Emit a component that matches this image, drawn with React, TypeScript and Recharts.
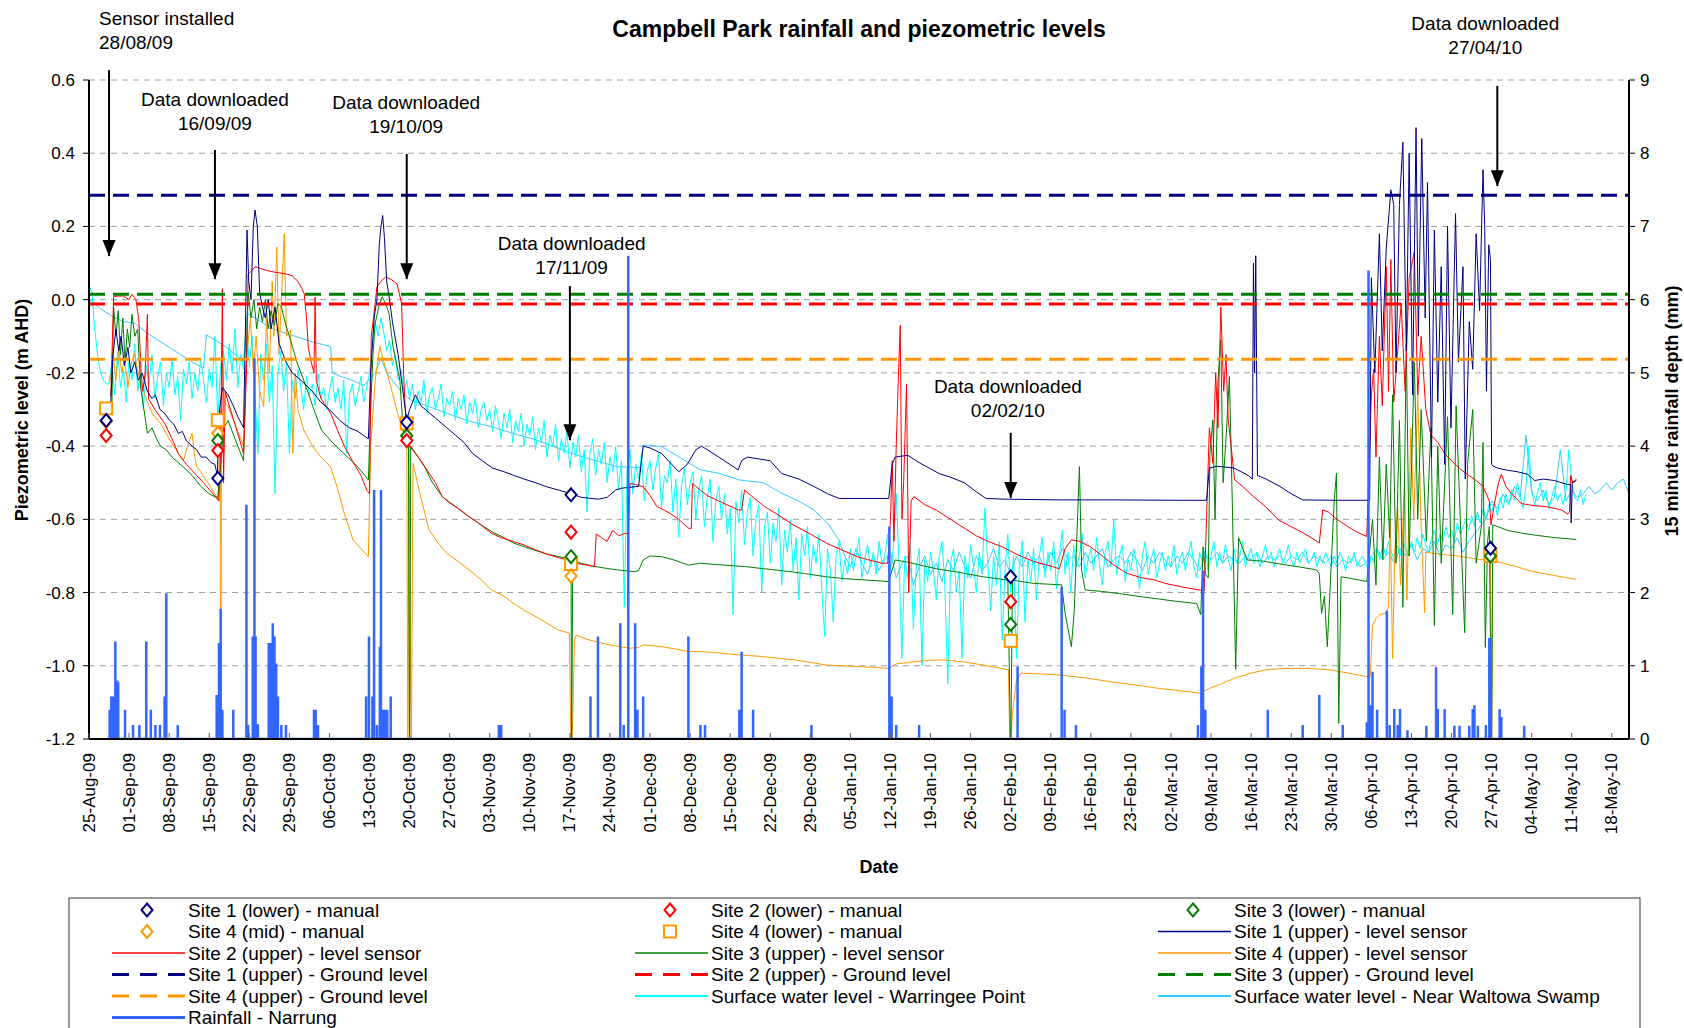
import React from 'react';
import {
  ComposedChart, Line, XAxis, YAxis, CartesianGrid, ReferenceLine, ReferenceDot
} from 'recharts';

const FONT = '"Liberation Sans", Arial, sans-serif';

const NAVY = '#000080';
const RED = '#FF0000';
const GREEN = '#008000';
const ORANGE = '#FF9900';
const CYAN = '#00FFFF';
const SKY = '#33CCFF';
const RAIN = '#3366FF';

// t = days since 25-Aug-09
const weekTicks = [0, 7, 14, 21, 28, 35, 42, 49, 56, 63, 70, 77, 84, 91, 98, 105, 112, 119, 126, 133,
  140, 147, 154, 161, 168, 175, 182, 189, 196, 203, 210, 217, 224, 231, 238, 245, 252, 259, 266];
const levelTicks = [-1.2, -1.0, -0.8, -0.6, -0.4, -0.2, 0.0, 0.2, 0.4, 0.6];
const rainTicks = [0, 1, 2, 3, 4, 5, 6, 7, 8, 9];
const monthNames = ['Jan', 'Feb', 'Mar', 'Apr', 'May', 'Jun', 'Jul', 'Aug', 'Sep', 'Oct', 'Nov', 'Dec'];

// ground levels (m AHD)
const groundSite1 = 0.285;
const groundSite2 = -0.012;
const groundSite3 = 0.015;
const groundSite4 = -0.163;

// manual readings [day, level]
const site1Manual = [[3, -0.33], [22.5, -0.488], [55.5, -0.335], [84.2, -0.533], [161, -0.757], [244.8, -0.679]];
const site2Manual = [[3, -0.371], [22.5, -0.412], [55.5, -0.385], [84.2, -0.635], [161, -0.825]];
const site3Manual = [[22.5, -0.385], [55.5, -0.372], [84.2, -0.702], [161, -0.887], [244.8, -0.7]];
const site4MidManual = [[3, -0.333], [22.5, -0.365], [55.5, -0.372], [84.2, -0.755], [244.8, -0.702]];
const site4LowerManual = [[3, -0.297], [22.5, -0.329], [55.5, -0.338], [84.2, -0.722], [161, -0.932], [244.8, -0.7]];

// level sensors [day, level]
const site1Sensor = [
  [3.8, -0.28], [4.2, -0.15], [4.7, -0.08], [5.2, -0.14], [5.6, -0.1], [6.2, -0.18], [6.8, -0.13], [7.3, -0.2],
  [8, -0.17], [8.6, -0.22], [9.3, -0.2], [10.2, -0.25], [11, -0.27], [11.6, -0.26], [12.4, -0.3], [13.2, -0.31],
  [14.1, -0.33], [14.8, -0.34], [15.6, -0.365], [16.3, -0.36], [17, -0.385], [18, -0.4], [18.8, -0.41],
  [19.6, -0.43], [20.5, -0.43], [21.3, -0.445], [22, -0.45], [22.4, -0.48], [22.8, -0.3], [23.3, -0.24],
  [24.3, -0.26], [25.2, -0.29], [26, -0.32], [27, -0.35], [27.3, -0.1], [27.6, 0.19], [27.9, 0.05], [28.3, 0.0],
  [28.7, 0.2], [29, 0.245], [29.4, 0.2], [29.8, 0.02], [30.3, -0.02], [30.8, -0.05], [31.3, 0.0], [31.8, -0.08],
  [32.5, -0.02], [33.2, -0.12], [34.4, -0.17], [35.5, -0.2], [37, -0.22], [39, -0.25], [40.5, -0.28], [42, -0.3],
  [43.8, -0.33], [45.5, -0.35], [47, -0.36], [48.8, -0.38], [49.2, -0.2], [49.8, -0.05], [50.3, 0.0], [50.7, 0.15],
  [51, 0.2], [51.3, 0.23], [51.6, 0.17], [52, 0.05], [52.5, 0.0], [53, -0.06], [54, -0.15], [55, -0.27],
  [55.5, -0.33], [56, -0.3], [57, -0.26], [58, -0.29], [59.5, -0.31], [61, -0.33], [62.5, -0.35], [64, -0.37],
  [65.5, -0.39], [67, -0.42], [68.7, -0.44], [70.5, -0.46], [72.5, -0.47], [74.2, -0.48], [76, -0.49], [78, -0.5],
  [79.7, -0.51], [82, -0.52], [84.2, -0.53], [86, -0.54], [89, -0.545], [90.5, -0.54], [92, -0.52], [93, -0.515],
  [96, -0.51], [96.8, -0.4], [98, -0.405], [100, -0.42], [101.5, -0.445], [103, -0.47], [104.5, -0.45],
  [106, -0.41], [107, -0.4], [110, -0.43], [113.4, -0.465], [114, -0.44], [115, -0.43], [117, -0.435],
  [119, -0.44], [121, -0.475], [124, -0.49], [126.6, -0.51], [129, -0.53], [131, -0.543], [135, -0.543],
  [139.7, -0.543], [140.3, -0.45], [140.8, -0.43], [143, -0.425], [145, -0.445], [148.5, -0.475], [150.5, -0.485],
  [152.9, -0.5], [155, -0.525], [156.7, -0.543], [160, -0.545], [170, -0.547], [180, -0.547], [190, -0.548],
  [195.2, -0.548], [195.7, -0.46], [197, -0.455], [200, -0.46], [202.5, -0.48], [203.2, -0.49], [203.4, 0.1],
  [203.6, -0.2], [203.8, 0.12], [204.1, -0.48], [205.6, -0.49], [208, -0.51], [210, -0.53], [212, -0.547],
  [218, -0.548], [223.7, -0.548],
  [224, 0.06], [224.6, -0.2], [225.4, 0.18], [225.9, -0.14], [226.6, 0.14], [227.4, 0.3], [227.9, 0.26],
  [228.3, -0.2], [228.9, 0.26], [229.5, 0.43], [230.1, -0.14], [230.6, 0.4], [231.2, -0.26], [231.8, 0.47],
  [232.2, -0.1], [232.8, 0.44], [233.4, -0.05], [233.8, 0.32], [234.5, -0.43], [235, 0.19], [235.6, -0.28],
  [236.2, 0.09], [236.8, -0.45], [237.3, 0.2], [237.9, -0.35], [238.7, 0.235], [239.2, -0.17], [240, 0.09],
  [240.4, -0.49], [241.1, -0.06], [241.7, -0.19], [242.3, 0.18], [242.9, -0.03], [243.5, 0.355], [243.8, 0.2],
  [244.1, -0.25], [244.5, 0.15], [244.8, 0.11], [245, -0.45],
  [245.2, -0.454], [246, -0.46], [247.8, -0.466], [249.5, -0.47], [251.3, -0.477], [252.5, -0.494], [254, -0.49],
  [256, -0.494], [258.3, -0.505], [258.8, -0.505], [258.9, -0.61], [259.1, -0.5], [259.8, -0.494],
];

const site2Sensor = [
  [3.8, -0.265], [4.3, 0.008], [5, 0.01], [6, 0.01], [7, 0.0], [7.5, 0.015], [8.2, 0.0], [8.7, -0.055],
  [9.1, -0.2], [9.4, -0.25], [9.8, -0.2], [10.2, -0.04], [10.4, -0.27], [11.5, -0.3], [13.3, -0.34], [14.5, -0.38],
  [15.6, -0.42], [17, -0.45], [18.8, -0.48], [20, -0.5], [21.1, -0.52], [22.7, -0.55], [23, -0.4], [23.3, 0.03],
  [23.5, -0.5], [23.8, -0.25], [24.3, -0.28], [25.5, -0.34], [27, -0.42], [27.5, -0.2], [27.8, 0.07], [28.5, 0.08],
  [29, 0.09], [30, 0.085], [31, 0.08], [32.5, 0.075], [34.5, 0.07], [35.5, 0.065], [36.5, 0.05], [37.2, 0.03],
  [37.6, 0.015], [38, -0.05], [38.3, -0.13], [38.8, -0.17], [39.3, -0.2], [39.5, 0.007], [39.7, -0.22],
  [40.5, -0.27], [42.2, -0.31], [43.5, -0.36], [44.6, -0.4], [46, -0.44], [47.5, -0.48], [48.5, -0.52], [49, -0.53],
  [49.3, -0.1], [49.7, -0.05], [50.3, 0.035], [51, 0.05], [51.8, 0.062], [52.8, 0.055], [53.8, 0.043],
  [54.6, -0.01], [55, -0.22], [55.5, -0.383], [56, -0.4], [57, -0.42], [58, -0.44], [59.4, -0.474], [60.5, -0.5],
  [61.7, -0.538], [63, -0.555], [64.5, -0.57], [66.4, -0.593], [68, -0.61], [70.3, -0.638], [72, -0.65],
  [74, -0.66], [76, -0.67], [78.1, -0.684], [80, -0.695], [82, -0.705], [83.6, -0.711], [85, -0.72], [87, -0.725],
  [88.3, -0.729], [88.6, -0.64], [89.5, -0.65], [90.5, -0.66], [91.5, -0.63], [92.5, -0.645], [93.7, -0.638],
  [94.2, -0.64], [94.5, -0.502], [95.5, -0.505], [96.8, -0.511], [98, -0.535], [99.2, -0.565], [100.5, -0.575],
  [101.5, -0.584], [103, -0.6], [104.7, -0.624], [105.2, -0.625], [105.4, -0.502], [106, -0.51], [106.8, -0.52],
  [108, -0.535], [110, -0.55], [113.4, -0.574], [114, -0.575], [114.5, -0.52], [116, -0.54], [118, -0.565],
  [120, -0.584], [123, -0.615], [126, -0.64], [128.8, -0.665], [131, -0.68], [134.2, -0.702], [136, -0.71],
  [138.6, -0.72], [139.5, -0.72], [140, -0.6], [140.3, -0.44], [140.6, -0.66], [141, -0.4], [141.4, -0.2],
  [141.7, -0.07], [142, -0.6], [142.3, -0.5], [142.8, -0.23], [143.2, -0.8], [143.6, -0.55], [144.1, -0.538],
  [146, -0.56], [148, -0.575], [150.7, -0.602], [153, -0.625], [155, -0.645], [157, -0.66], [159.5, -0.675],
  [162, -0.695], [165, -0.715], [168.3, -0.729], [169.5, -0.735], [170.5, -0.68], [171.6, -0.656], [173, -0.66],
  [174.9, -0.675], [177, -0.7], [179, -0.725], [181.4, -0.748], [184, -0.76], [186, -0.765], [188, -0.775],
  [191, -0.785], [194, -0.793], [194.8, -0.795], [195.2, -0.6], [195.7, -0.35], [196.3, -0.447], [196.8, -0.2],
  [197.2, -0.35], [197.7, -0.02], [198.2, -0.25], [198.6, -0.15], [199, -0.329], [199.5, -0.4], [200.1, -0.492],
  [201.5, -0.51], [203.4, -0.538], [205.5, -0.565], [207.8, -0.602], [210, -0.62], [212.2, -0.638], [214, -0.655],
  [214.9, -0.665], [215.5, -0.574], [216.5, -0.58], [218, -0.6], [219.9, -0.62], [221.5, -0.635], [223.2, -0.647],
  [224, -0.26], [224.4, -0.19], [224.8, -0.43], [225.4, -0.1], [225.9, -0.29], [226.6, 0.09], [227, -0.25],
  [227.4, 0.11], [227.9, -0.28], [228.6, -0.14], [229.2, -0.01], [229.9, -0.25], [230.6, 0.06], [231.5, 0.13],
  [232.1, -0.26], [232.7, -0.1], [233.5, -0.3], [234.4, -0.37], [235.6, -0.39], [236.8, -0.42], [238, -0.44],
  [239.7, -0.465], [241, -0.48], [242, -0.49], [243.5, -0.51], [244.6, -0.55], [244.9, -0.615], [245.5, -0.557],
  [246.2, -0.5], [246.7, -0.477], [247.5, -0.51], [248.5, -0.53], [250.2, -0.557], [251.5, -0.56], [252.5, -0.563],
  [254.5, -0.565], [257.2, -0.574], [258.3, -0.586], [258.6, -0.58], [258.8, -0.48], [259.2, -0.5], [259.8, -0.49],
];

const site3Sensor = [
  [4, -0.29], [4.3, -0.02], [4.7, -0.1], [5.1, -0.03], [5.5, -0.15], [5.9, -0.05], [6.3, -0.17], [6.7, -0.08],
  [7.1, -0.13], [7.5, -0.04], [8, -0.1], [8.5, -0.08], [9, -0.237], [9.6, -0.3], [10.2, -0.365], [11, -0.35],
  [11.8, -0.38], [12.5, -0.4], [13.5, -0.41], [14.5, -0.43], [16.4, -0.456], [18, -0.48], [19.6, -0.511], [21, -0.53],
  [21.9, -0.538], [22.5, -0.54], [23, -0.45], [23.5, -0.35], [24.3, -0.33], [25.5, -0.38], [27, -0.44], [27.4, -0.2],
  [27.8, 0.02], [28.3, -0.05], [28.8, 0.0], [29.3, -0.08], [29.8, -0.02], [30.3, -0.06], [30.8, 0.0], [31.3, -0.08],
  [31.8, -0.03], [32.4, -0.07], [33, -0.01], [33.6, -0.02], [34.4, -0.07], [35.2, -0.11], [36.3, -0.17],
  [37.5, -0.22], [39.1, -0.292], [40.6, -0.356], [42.5, -0.39], [44.5, -0.42], [46.9, -0.456], [48.8, -0.492],
  [49.2, -0.3], [49.6, -0.15], [50, -0.064], [50.6, -0.02], [51.2, 0.008], [51.8, -0.01], [52.4, -0.037],
  [53.1, -0.128], [54.3, -0.22], [55, -0.383], [55.8, -0.39], [56, -1.25], [56.2, -0.4], [57.5, -0.43],
  [58.6, -0.456], [60, -0.5], [61.7, -0.538], [64, -0.565], [66.4, -0.593], [68.5, -0.615], [70.5, -0.635],
  [72.5, -0.65], [74.2, -0.665], [77, -0.68], [80, -0.695], [83.6, -0.707], [84.2, -0.71], [84.3, -1.25],
  [84.5, -0.71], [85.9, -0.72], [88, -0.728], [90, -0.733], [92.2, -0.738], [95.3, -0.743], [96, -0.74],
  [96.8, -0.711], [98, -0.7], [100, -0.702], [102, -0.71], [104.7, -0.725], [106.8, -0.72], [110, -0.724],
  [114.5, -0.729], [118, -0.735], [122, -0.742], [125, -0.748], [128.8, -0.757], [132, -0.762], [136, -0.766],
  [139.7, -0.77], [140.8, -0.711], [143, -0.717], [145.2, -0.725], [148, -0.735], [152, -0.745], [156.2, -0.757],
  [160.5, -0.766], [161, -1.25], [161.3, -0.766], [165, -0.775], [169.9, -0.779], [170.5, -0.857], [171.6, -0.948],
  [172.1, -0.85], [172.7, -0.584], [173, -0.456], [173.4, -0.74], [174, -0.793], [177, -0.797], [180, -0.803],
  [183.6, -0.811], [187, -0.818], [190, -0.824], [193.5, -0.83], [194.2, -0.86], [194.6, -0.675], [195, -0.75],
  [195.5, -0.76], [195.8, -0.42], [196.3, -0.329], [196.7, -0.6], [197.2, -0.22], [197.7, -0.11], [198.1, -0.5],
  [198.6, -0.383], [199.2, -0.21], [199.7, -0.55], [200.3, -1.01], [200.8, -0.65], [202.3, -0.711], [205, -0.714],
  [208, -0.722], [211, -0.729], [214.4, -0.738], [214.9, -0.748], [215.3, -0.857], [215.8, -0.81], [216.3, -0.948],
  [217, -0.72], [217.5, -0.55], [217.9, -0.474], [218.3, -1.157], [218.7, -0.757], [220, -0.76], [223.2, -0.77],
  [224.2, -0.6], [224.8, -0.78], [225.4, -0.43], [226, -0.71], [226.6, -0.45], [227.2, -0.65], [227.7, -0.26],
  [228.3, -0.72], [228.9, -0.33], [229.5, -0.84], [230.1, -0.12], [230.6, -0.7], [231.5, -0.17], [232.1, -0.6],
  [232.7, -0.3], [233.6, -0.66], [234.4, -0.35], [235, -0.89], [235.6, -0.4], [236.2, -0.72], [237.3, -0.32],
  [238.2, -0.86], [238.8, -0.29], [239.7, -0.67], [240.3, -0.91], [240.8, -0.45], [241.7, -0.3], [242.3, -0.72],
  [243.2, -0.62], [243.5, -0.39], [243.9, -0.95], [244.3, -0.66], [244.6, -0.62], [245, -1.25], [245.2, -0.615],
  [247.8, -0.63], [250, -0.637], [252.5, -0.643], [256, -0.65], [259.8, -0.655],
];

const site4Sensor = [
  [3.8, -0.22], [4.2, -0.15], [4.7, -0.22], [5.2, -0.13], [5.7, -0.2], [6.2, -0.16], [6.8, -0.24], [7.3, -0.18],
  [7.9, -0.146], [8.6, -0.2], [9.4, -0.246], [10.2, -0.28], [11, -0.31], [12.5, -0.338], [14, -0.38], [15.6, -0.42],
  [16.5, -0.44], [17.2, -0.4], [18, -0.365], [18.4, -0.42], [18.8, -0.456], [19.5, -0.47], [20.4, -0.492],
  [21.2, -0.51], [21.9, -0.529], [22.6, -0.547], [22.9, -0.3], [23, -1.25], [23.2, -0.12], [23.6, -0.28],
  [24.3, -0.292], [25.5, -0.34], [27, -0.401], [27.4, -0.2], [27.7, -0.128], [28.2, -0.05], [28.7, -0.2],
  [29.2, -0.1], [29.8, -0.25], [30.5, -0.292], [31, -0.05], [31.5, -0.2], [32, 0.05], [32.3, -0.1], [32.8, 0.144],
  [33.2, -0.15], [33.6, 0.0], [34.1, 0.18], [34.5, -0.1], [35.2, -0.083], [35.6, -0.42], [36, -0.2], [36.5, -0.3],
  [37.5, -0.356], [39.1, -0.401], [40.5, -0.43], [42.2, -0.456], [43.5, -0.52], [44.6, -0.584], [46.1, -0.656],
  [47.5, -0.68], [48.8, -0.702], [49.2, -0.401], [50, -0.219], [50.8, -0.128], [51.5, -0.17], [52.4, -0.219],
  [53.9, -0.31], [55, -0.365], [55.5, -0.37], [55.7, -1.25], [55.9, -0.38], [56.3, -1.25], [56.6, -0.447],
  [57.8, -0.529], [59.4, -0.629], [61, -0.665], [62.5, -0.693], [64.5, -0.715], [66.4, -0.738], [68.5, -0.765],
  [70.3, -0.793], [72.5, -0.81], [74.2, -0.83], [76, -0.848], [78.1, -0.866], [80, -0.884], [82, -0.902],
  [83.9, -0.911], [84.2, -1.25], [84.5, -1.15], [84.8, -0.93], [85.1, -0.916], [87, -0.928], [89.8, -0.939],
  [92, -0.946], [94.5, -0.952], [96, -0.95], [96.8, -0.943], [98.5, -0.945], [100, -0.948], [102, -0.953],
  [104.7, -0.961], [106.8, -0.961], [110, -0.965], [113.4, -0.97], [117.8, -0.975], [123.3, -0.984],
  [128.8, -0.998], [134.2, -1.002], [139.7, -1.007], [141, -0.995], [144.1, -0.989], [147, -0.985],
  [149.6, -0.984], [153, -0.99], [156.2, -0.998], [160.6, -1.011], [160.9, -1.25], [161.3, -1.13], [162, -1.04],
  [162.8, -1.02], [166, -1.022], [169.4, -1.025], [174, -1.033], [178.2, -1.043], [183, -1.053], [187, -1.062],
  [191, -1.069], [194.1, -1.075], [195.7, -1.062], [198, -1.048], [200.1, -1.034], [203, -1.02], [205.6, -1.011],
  [208, -1.008], [211.1, -1.007], [214, -1.008], [216.6, -1.011], [220, -1.02], [223.2, -1.03], [223.8, -1.03],
  [224.2, -0.89], [224.8, -0.87], [225.5, -0.86], [226.6, -0.855], [227, -0.84], [227.3, -0.6], [227.7, -0.98],
  [228.1, -0.68], [228.6, -0.57], [229.1, -0.78], [229.8, -0.49], [230.2, -0.82], [230.9, -0.35], [231.4, -0.6],
  [232.1, -0.26], [232.7, -0.62], [233.3, -0.855], [233.5, -0.69], [235, -0.693], [237, -0.697], [239, -0.7],
  [241, -0.705], [243, -0.71], [244.3, -0.71], [244.8, -0.712], [245, -1.25], [245.2, -0.712], [247, -0.72],
  [249.6, -0.73], [251.5, -0.74], [253.7, -0.747], [256.5, -0.755], [259.8, -0.764],
];

// Surface water - Warringee Point, half-day readings from 25-Aug-09
const warringeeStep = 0.5;
const warringeeLevels = [
  0.04, 0.02, -0.08, -0.15, -0.2, -0.22, -0.23, -0.23, -0.17, -0.26, -0.14, -0.24, -0.19, -0.28,
  -0.16, -0.22, -0.12, -0.25, -0.2, -0.3, -0.18, -0.23, -0.15, -0.27, -0.21, -0.17, -0.29, -0.2,
  -0.24, -0.16, -0.26, -0.21, -0.33, -0.19, -0.23, -0.17, -0.27, -0.2, -0.25, -0.16, -0.22, -0.28,
  -0.19, -0.24, -0.1, -0.33, -0.18, -0.14, -0.22, -0.12, -0.2, -0.08, -0.24, -0.15, -0.19, -0.06,
  -0.18, -0.1, -0.26, -0.42, -0.15, -0.22, -0.12, -0.28, -0.18, -0.53, -0.2, -0.14, -0.25, -0.17,
  -0.42, -0.22, -0.27, -0.19, -0.24, -0.3, -0.21, -0.26, -0.23, -0.29, -0.2, -0.27, -0.24, -0.3,
  -0.25, -0.21, -0.28, -0.24, -0.3, -0.22, -0.42, -0.26, -0.23, -0.29, -0.25, -0.21, -0.28, -0.24,
  -0.2, -0.12, -0.06, -0.1, -0.05, -0.09, -0.14, -0.11, -0.18, -0.15, -0.22, -0.19, -0.25, -0.22,
  -0.27, -0.23, -0.3, -0.25, -0.28, -0.22, -0.31, -0.26, -0.24, -0.3, -0.27, -0.23, -0.32, -0.27,
  -0.29, -0.25, -0.33, -0.27, -0.3, -0.26, -0.34, -0.28, -0.31, -0.27, -0.35, -0.3, -0.28, -0.33,
  -0.3, -0.36, -0.29, -0.33, -0.38, -0.31, -0.35, -0.3, -0.39, -0.33, -0.36, -0.31, -0.4, -0.34,
  -0.37, -0.32, -0.41, -0.35, -0.39, -0.33, -0.43, -0.37, -0.4, -0.34, -0.44, -0.38, -0.42, -0.36,
  -0.46, -0.39, -0.43, -0.37, -0.47, -0.41, -0.58, -0.42, -0.38, -0.48, -0.41, -0.45, -0.39, -0.5,
  -0.43, -0.47, -0.4, -0.52, -0.44, -0.84, -0.46, -0.41, -0.53, -0.45, -0.49, -0.42, -0.55, -0.47,
  -0.44, -0.52, -0.46, -0.42, -0.57, -0.48, -0.5, -0.44, -0.58, -0.49, -0.65, -0.51, -0.46, -0.56,
  -0.5, -0.47, -0.6, -0.52, -0.48, -0.62, -0.54, -0.49, -0.66, -0.55, -0.51, -0.6, -0.53, -0.64,
  -0.57, -0.86, -0.55, -0.61, -0.52, -0.67, -0.58, -0.54, -0.7, -0.6, -0.56, -0.8, -0.62, -0.58,
  -0.72, -0.61, -0.66, -0.57, -0.78, -0.63, -0.69, -0.6, -0.74, -0.65, -0.82, -0.64, -0.7, -0.62,
  -0.76, -0.67, -0.72, -0.64, -0.79, -0.92, -0.68, -0.74, -0.88, -0.7, -0.66, -0.77, -0.71, -0.75,
  -0.68, -0.74, -0.7, -0.65, -0.76, -0.71, -0.67, -0.73, -0.69, -0.75, -0.66, -0.72, -0.7, -0.64,
  -0.74, -0.68, -0.53, -0.72, -0.98, -0.7, -0.76, -0.66, -0.9, -0.73, -0.68, -1.0, -0.71, -0.77,
  -0.69, -0.74, -0.82, -0.7, -0.66, -0.78, -1.05, -0.72, -0.68, -0.8, -0.74, -0.98, -0.7, -0.76,
  -0.67, -0.73, -0.8, -0.69, -0.75, -0.57, -0.72, -0.85, -0.7, -0.78, -0.66, -0.93, -0.74, -0.64,
  -0.8, -0.7, -0.98, -0.73, -0.66, -0.88, -0.71, -0.77, -0.68, -0.82, -0.7, -0.65, -0.76, -0.69,
  -0.74, -0.66, -0.79, -0.7, -0.63, -0.75, -0.69, -0.8, -0.67, -0.73, -0.7, -0.64, -0.76, -0.71,
  -0.68, -0.74, -0.65, -0.72, -0.78, -0.69, -0.66, -0.73, -0.6, -0.75, -0.7, -0.67, -0.77, -0.71,
  -0.74, -0.68, -0.72, -0.79, -0.7, -0.66, -0.75, -0.71, -0.68, -0.76, -0.72, -0.69, -0.74, -0.7,
  -0.73, -0.67, -0.75, -0.71, -0.69, -0.74, -0.7, -0.66, -0.73, -0.76, -0.69, -0.72, -0.68, -0.74,
  -0.7, -0.66, -0.73, -0.69, -0.72, -0.67, -0.71, -0.74, -0.68, -0.72, -0.7, -0.66, -0.73, -0.7,
  -0.68, -0.72, -0.69, -0.73, -0.7, -0.67, -0.71, -0.69, -0.73, -0.7, -0.68, -0.72, -0.7, -0.67,
  -0.71, -0.73, -0.69, -0.72, -0.7, -0.68, -0.72, -0.71, -0.69, -0.73, -0.7, -0.72, -0.69, -0.71,
  -0.73, -0.7, -0.72, -0.69, -0.71, -0.74, -0.7, -0.72, -0.69, -0.73, -0.71, -0.7, -0.72, -0.74,
  -0.7, -0.72, -0.68, -0.71, -0.67, -0.7, -0.66, -0.69, -0.71, -0.67, -0.7, -0.66, -0.68, -0.7,
  -0.66, -0.69, -0.65, -0.68, -0.64, -0.67, -0.69, -0.65, -0.63, -0.67, -0.64, -0.66, -0.62, -0.65,
  -0.63, -0.66, -0.61, -0.64, -0.62, -0.6, -0.63, -0.59, -0.62, -0.58, -0.61, -0.57, -0.6, -0.56,
  -0.58, -0.55, -0.59, -0.54, -0.57, -0.53, -0.56, -0.52, -0.55, -0.5, -0.54, -0.57, -0.51, -0.4,
  -0.52, -0.56, -0.53, -0.5, -0.55, -0.52, -0.57, -0.54, -0.51, -0.55, -0.53, -0.56, -0.52, -0.41,
  -0.5, -0.54, -0.55, -0.52, -0.56, -0.53,
];

// Surface water - Near Waltowa Swamp
const waltowaEarly = [
  [0, 0.0], [1, -0.01], [2, -0.025], [4, -0.045], [6, -0.06], [8, -0.064], [10, -0.09], [12, -0.11], [14, -0.13],
  [16, -0.15], [18, -0.17], [20, -0.187], [20.5, -0.096], [22, -0.11], [24, -0.13], [26, -0.155], [27, -0.17],
  [27.6, -0.037], [29, -0.05], [31, -0.07], [33, -0.085], [35, -0.095], [37, -0.105], [39, -0.115], [42.2, -0.128],
  [42.5, -0.2], [44, -0.21], [46, -0.22], [48, -0.235], [50, -0.2], [51, -0.16], [52, -0.2], [53, -0.22],
  [54.5, -0.25], [56.2, -0.274], [59, -0.29], [62.5, -0.31], [66, -0.33], [70.3, -0.347], [74, -0.365],
  [78.1, -0.383], [81, -0.4], [84.3, -0.42], [87, -0.433], [89, -0.442], [92.2, -0.456], [95, -0.458],
  [96.3, -0.458], [96.8, -0.397], [100, -0.401], [103, -0.429], [106.8, -0.465], [110, -0.474], [113.4, -0.492],
  [115, -0.495], [117.8, -0.5], [121, -0.529], [124, -0.55], [126.6, -0.574], [129, -0.61], [131, -0.656],
];
const waltowaDailyStart = 132;
const waltowaDaily = [
  -0.7, -0.73, -0.68, -0.72, -0.75, -0.7, -0.74,
  -0.71, -0.69, -0.76, -0.72, -0.7, -0.78, -0.73,
  -0.7, -0.75, -0.72, -0.77, -0.71, -0.74, -0.69,
  -0.73, -0.76, -0.7, -0.74, -0.72, -0.68, -0.73,
  -0.71, -0.75, -0.7, -0.73, -0.69, -0.72, -0.7,
  -0.74, -0.69, -0.72, -0.68, -0.71, -0.7, -0.73,
  -0.69, -0.72, -0.7, -0.68, -0.73, -0.71, -0.7,
  -0.72, -0.69, -0.71, -0.74, -0.7, -0.72, -0.69,
  -0.71, -0.73, -0.7, -0.72, -0.69, -0.71, -0.74,
  -0.7, -0.71, -0.69, -0.72, -0.7, -0.71, -0.72,
  -0.7, -0.71, -0.69, -0.72, -0.7, -0.71, -0.7,
  -0.72, -0.7, -0.71, -0.69, -0.72, -0.7, -0.71,
  -0.72, -0.7, -0.73, -0.71, -0.72, -0.7, -0.73,
  -0.72, -0.7, -0.68, -0.71, -0.69, -0.72, -0.68,
  -0.7, -0.67, -0.71, -0.68, -0.69, -0.66, -0.7,
  -0.67, -0.68, -0.65, -0.69, -0.66, -0.64, -0.62,
  -0.6, -0.55, -0.57, -0.53, -0.56, -0.51, -0.54,
  -0.37, -0.53, -0.55, -0.52, -0.56, -0.54, -0.41,
  -0.55, -0.52, -0.54, -0.53, -0.51, -0.53, -0.52,
  -0.5, -0.52, -0.5, -0.49, -0.53,
];

// Rainfall - Narrung, 15 minute depth [day, mm]
const rainfallEvents = [
  [3.2, 0], [3.6, 0.4], [3.9, 0.58], [4.2, 0.58], [4.6, 1.33], [4.9, 0.8], [5.1, 0.78], [6.3, 0.4], [7.7, 0.19],
  [8.8, 0.19], [10, 1.33], [10.8, 0.4], [11.6, 0.19], [12.4, 0.19], [13.2, 0.58], [13.5, 1.99], [15.5, 0.19],
  [22.3, 0.6], [22.7, 1.31], [23, 1.78], [23.3, 0.4], [25.2, 0.4], [27.5, 3.2], [27.8, 0.19], [28.6, 1.4],
  [28.9, 5.2], [29.1, 1.4], [29.5, 0.2], [31.4, 1.31], [31.7, 1.31], [32.1, 1.58], [32.4, 1.4], [32.7, 1.03],
  [33, 0.58], [33.6, 0.19], [34.4, 0.19], [39.3, 0.4], [39.6, 0.4], [40, 0.19], [48.4, 0.58], [48.9, 1.4],
  [49.5, 0.58], [49.8, 3.4], [50.3, 0.19], [50.8, 1.26], [51, 3.4], [51.4, 0.4], [51.8, 0.4], [52.1, 0.4],
  [52.7, 0.58], [71.6, 0.19], [72, 0.19], [87.6, 0.58], [88.9, 1.4], [92.8, 1.58], [93.4, 0.19], [94.2, 6.6],
  [95.4, 1.58], [95.8, 0.4], [96.8, 0.58], [104.7, 1.4], [106.8, 0.19], [107.6, 0.19], [113.6, 0.4], [114, 1.19],
  [116, 0.4], [126.2, 0.19], [139.8, 2.9], [140.2, 0.58], [141, 0.19], [145, 0.19], [162.2, 0.99], [169.9, 2.08],
  [170.4, 0.4], [172.4, 0.19], [193.7, 0.19], [194.3, 0.99], [194.6, 2.3], [195, 0.4], [205.9, 0.4], [212, 0.19],
  [214.9, 0.6], [219, 0.19], [223.2, 0.23], [223.5, 6.4], [223.8, 0.46], [224.2, 0.92], [225, 0.4], [226.7, 1.75],
  [227.2, 0.19], [228, 0.41], [228.6, 0.19], [229, 0.41], [230.3, 0.12], [233.6, 0.18], [235.3, 0.98],
  [235.6, 0.41], [236.8, 0.41], [238.5, 0.18], [239.4, 0.18], [241.1, 0.18], [241.7, 0.41], [242, 0.46],
  [242.6, 0.18], [244, 0.19], [244.6, 1.38], [244.8, 1.38], [246.4, 0.41], [246.7, 0.3], [250.7, 0.18], [251.4, 0],
];

// annotation arrows: day, arrow top, arrow tip (m AHD), text anchor point
const annotations = [
  { lines: ['Sensor installed', '28/08/09'], textT: 1.75, textV: 0.767, anchor: 'start', t: 3.5, from: 0.627, to: 0.119 },
  { lines: ['Data downloaded', '16/09/09'], textT: 22, textV: 0.545, anchor: 'middle', t: 22, from: 0.409, to: 0.056 },
  { lines: ['Data downloaded', '19/10/09'], textT: 55.4, textV: 0.537, anchor: 'middle', t: 55.5, from: 0.398, to: 0.056 },
  { lines: ['Data downloaded', '17/11/09'], textT: 84.3, textV: 0.152, anchor: 'middle', t: 84, from: 0.037, to: -0.384 },
  { lines: ['Data downloaded', '02/02/10'], textT: 160.5, textV: -0.239, anchor: 'middle', t: 161, from: -0.364, to: -0.542 },
  { lines: ['Data downloaded', '27/04/10'], textT: 243.9, textV: 0.753, anchor: 'middle', t: 246, from: 0.584, to: 0.31 },
];

const toPoints = (arr: number[][]) => arr.map(([t, v]) => ({ t, v }));

const warringeeData = warringeeLevels.map((v, i) => ({ t: i * warringeeStep, v }));
const waltowaData = [
  ...toPoints(waltowaEarly),
  ...waltowaDaily.map((v, i) => ({ t: waltowaDailyStart + i, v })),
];
const rainData: { t: number; r: number }[] = [];
rainfallEvents.forEach(([t, mm]) => {
  rainData.push({ t, r: 0 }, { t, r: mm }, { t, r: 0 });
});

const START = Date.UTC(2009, 7, 25);
function dayLabel(t: number) {
  const d = new Date(START + t * 86400000);
  const dd = String(d.getUTCDate()).padStart(2, '0');
  const yy = String(d.getUTCFullYear() % 100).padStart(2, '0');
  return `${dd}-${monthNames[d.getUTCMonth()]}-${yy}`;
}

function DateTick(props: any) {
  const { x, y, payload } = props;
  const ty = y + 14;
  return (
    <g>
      <line x1={x} y1={y - 6} x2={x} y2={y} stroke="#606060" strokeWidth={1} />
      <text x={x} y={ty} transform={`rotate(-90, ${x}, ${ty})`} textAnchor="end" dominantBaseline="central"
        fontSize={17} fontFamily={FONT} fill="#000">{dayLabel(payload.value)}</text>
    </g>
  );
}

function markerDot(color: string, kind: 'diamond' | 'square') {
  return (p: any) => {
    const { cx, cy, index } = p;
    if (cx == null || cy == null) return <g key={`${color}-${kind}-${index}`} />;
    if (kind === 'square') {
      return <rect key={`${color}-${kind}-${index}`} x={cx - 6} y={cy - 6} width={12} height={12}
        fill="#fff" stroke={color} strokeWidth={2} />;
    }
    return <polygon key={`${color}-${kind}-${index}`}
      points={`${cx},${cy - 6.5} ${cx + 5.5},${cy} ${cx},${cy + 6.5} ${cx - 5.5},${cy}`}
      fill="#fff" stroke={color} strokeWidth={2} />;
  };
}

const legendItems = [
  { label: 'Site 1 (lower) - manual', kind: 'diamond', color: NAVY },
  { label: 'Site 2 (lower) - manual', kind: 'diamond', color: RED },
  { label: 'Site 3 (lower) - manual', kind: 'diamond', color: GREEN },
  { label: 'Site 4 (mid) - manual', kind: 'diamond', color: ORANGE },
  { label: 'Site 4 (lower) - manual', kind: 'square', color: ORANGE },
  { label: 'Site 1 (upper) - level sensor', kind: 'line', color: NAVY, w: 1.5 },
  { label: 'Site 2 (upper) - level sensor', kind: 'line', color: RED, w: 1.5 },
  { label: 'Site 3 (upper) - level sensor', kind: 'line', color: GREEN, w: 1.5 },
  { label: 'Site 4 (upper) - level sensor', kind: 'line', color: ORANGE, w: 1.5 },
  { label: 'Site 1 (upper) - Ground level', kind: 'dash', color: NAVY },
  { label: 'Site 2 (upper) - Ground level', kind: 'dash', color: RED },
  { label: 'Site 3 (upper) - Ground level', kind: 'dash', color: GREEN },
  { label: 'Site 4 (upper) - Ground level', kind: 'dash', color: ORANGE },
  { label: 'Surface water level - Warringee Point', kind: 'line', color: CYAN, w: 2 },
  { label: 'Surface water level - Near Waltowa Swamp', kind: 'line', color: SKY, w: 2 },
  { label: 'Rainfall - Narrung', kind: 'line', color: RAIN, w: 3 },
];

function Legend() {
  return (
    <g fontFamily={FONT} fontSize={19}>
      <rect x={69} y={898} width={1571} height={200} fill="#fff" stroke="#333" strokeWidth={1} />
      {legendItems.map((it, i) => {
        const bx = 69 + (i % 3) * 523;
        const cy = 910 + Math.floor(i / 3) * 21.5;
        const mx = bx + 78;
        let sample: React.ReactNode = null;
        if (it.kind === 'diamond') {
          sample = <polygon points={`${mx},${cy - 6.5} ${mx + 5.5},${cy} ${mx},${cy + 6.5} ${mx - 5.5},${cy}`}
            fill="#fff" stroke={it.color} strokeWidth={2} />;
        } else if (it.kind === 'square') {
          sample = <rect x={mx - 6} y={cy - 6} width={12} height={12} fill="#fff" stroke={it.color} strokeWidth={2} />;
        } else if (it.kind === 'dash') {
          sample = <line x1={bx + 43} x2={bx + 116} y1={cy} y2={cy} stroke={it.color} strokeWidth={3} strokeDasharray="17 11" />;
        } else {
          sample = <line x1={bx + 43} x2={bx + 116} y1={cy} y2={cy} stroke={it.color} strokeWidth={(it as any).w} />;
        }
        return (
          <g key={it.label}>
            {sample}
            <text x={bx + 119} y={cy} dominantBaseline="central" fill="#000">{it.label}</text>
          </g>
        );
      })}
    </g>
  );
}

export default function App() {
  return (
    <div style={{ position: 'absolute', left: 0, top: 0, width: 1684, height: 1028, overflow: 'hidden', background: '#fff' }}>
      <ComposedChart width={1684} height={900} margin={{ top: 80, right: 10, bottom: 41, left: 29 }}>
        <CartesianGrid yAxisId="left" vertical={false} stroke="#A0A0A0" strokeDasharray="6 5" />
        <XAxis dataKey="t" type="number" domain={[0, 269]} ticks={weekTicks} allowDataOverflow
          height={120} tickSize={0} tickMargin={0} tickLine={false} interval={0}
          axisLine={{ stroke: '#000', strokeWidth: 2 }} tick={<DateTick />} />
        <XAxis xAxisId="top" orientation="top" dataKey="t" type="number" domain={[0, 269]} allowDataOverflow
          height={0} tick={false} tickLine={false} axisLine={{ stroke: '#000', strokeWidth: 2 }} />
        <YAxis yAxisId="left" type="number" domain={[-1.2, 0.6]} ticks={levelTicks} allowDataOverflow width={60}
          tickFormatter={(v: number) => v.toFixed(1)} tickSize={6} tickMargin={8} interval={0}
          tick={{ fontSize: 17, fill: '#000', fontFamily: FONT }}
          tickLine={{ stroke: '#000' }} axisLine={{ stroke: '#000', strokeWidth: 2 }} />
        <YAxis yAxisId="right" orientation="right" type="number" domain={[0, 9]} ticks={rainTicks} allowDataOverflow
          width={45} tickSize={6} tickMargin={5} interval={0}
          tick={{ fontSize: 17, fill: '#000', fontFamily: FONT }}
          tickLine={{ stroke: '#000' }} axisLine={{ stroke: '#000', strokeWidth: 2 }} />

        <Line data={waltowaData} dataKey="v" yAxisId="left" type="linear" stroke={SKY} strokeWidth={1}
          dot={false} activeDot={false} isAnimationActive={false} />
        <Line data={warringeeData} dataKey="v" yAxisId="left" type="linear" stroke={CYAN} strokeWidth={1}
          dot={false} activeDot={false} isAnimationActive={false} />
        <Line data={toPoints(site4Sensor)} dataKey="v" yAxisId="left" type="linear" stroke={ORANGE} strokeWidth={1}
          dot={false} activeDot={false} isAnimationActive={false} />
        <Line data={toPoints(site3Sensor)} dataKey="v" yAxisId="left" type="linear" stroke={GREEN} strokeWidth={1}
          dot={false} activeDot={false} isAnimationActive={false} />
        <Line data={toPoints(site2Sensor)} dataKey="v" yAxisId="left" type="linear" stroke={RED} strokeWidth={1}
          dot={false} activeDot={false} isAnimationActive={false} />
        <Line data={toPoints(site1Sensor)} dataKey="v" yAxisId="left" type="linear" stroke={NAVY} strokeWidth={1}
          dot={false} activeDot={false} isAnimationActive={false} />

        <ReferenceLine yAxisId="left" y={groundSite1} stroke={NAVY} strokeWidth={3} strokeDasharray="16 8" />
        <ReferenceLine yAxisId="left" y={groundSite3} stroke={GREEN} strokeWidth={3} strokeDasharray="16 8" />
        <ReferenceLine yAxisId="left" y={groundSite2} stroke={RED} strokeWidth={3} strokeDasharray="16 8" />
        <ReferenceLine yAxisId="left" y={groundSite4} stroke={ORANGE} strokeWidth={3} strokeDasharray="16 8" />

        <Line data={rainData} dataKey="r" yAxisId="right" type="linear" stroke={RAIN} strokeWidth={2.5}
          dot={false} activeDot={false} isAnimationActive={false} />

        <Line data={toPoints(site4LowerManual)} dataKey="v" yAxisId="left" stroke="none"
          dot={markerDot(ORANGE, 'square')} activeDot={false} isAnimationActive={false} />
        <Line data={toPoints(site4MidManual)} dataKey="v" yAxisId="left" stroke="none"
          dot={markerDot(ORANGE, 'diamond')} activeDot={false} isAnimationActive={false} />
        <Line data={toPoints(site3Manual)} dataKey="v" yAxisId="left" stroke="none"
          dot={markerDot(GREEN, 'diamond')} activeDot={false} isAnimationActive={false} />
        <Line data={toPoints(site2Manual)} dataKey="v" yAxisId="left" stroke="none"
          dot={markerDot(RED, 'diamond')} activeDot={false} isAnimationActive={false} />
        <Line data={toPoints(site1Manual)} dataKey="v" yAxisId="left" stroke="none"
          dot={markerDot(NAVY, 'diamond')} activeDot={false} isAnimationActive={false} />

        {annotations.map((a, i) => (
          <ReferenceLine key={`al${i}`} yAxisId="left" ifOverflow="visible" stroke="#000" strokeWidth={2}
            segment={[{ x: a.t, y: a.from }, { x: a.t, y: a.to }]} />
        ))}
        {annotations.map((a, i) => (
          <ReferenceDot key={`ah${i}`} yAxisId="left" x={a.t} y={a.to} r={1} ifOverflow="visible"
            shape={(p: any) => (
              <polygon points={`${p.cx - 6.5},${p.cy - 16} ${p.cx + 6.5},${p.cy - 16} ${p.cx},${p.cy}`} fill="#000" />
            )} />
        ))}
        {annotations.map((a, i) => (
          <ReferenceDot key={`at${i}`} yAxisId="left" x={a.textT} y={a.textV} r={1} ifOverflow="visible"
            shape={(p: any) => (
              <text x={p.cx} y={p.cy} textAnchor={a.anchor as any} fontSize={19} fontFamily={FONT} fill="#000">
                <tspan x={p.cx} dy={6}>{a.lines[0]}</tspan>
                <tspan x={p.cx} dy={24}>{a.lines[1]}</tspan>
              </text>
            )} />
        ))}
      </ComposedChart>

      <svg width={1684} height={1028} style={{ position: 'absolute', left: 0, top: 0, pointerEvents: 'none' }}>
        <text x={859} y={29} textAnchor="middle" dominantBaseline="central" fontSize={23} fontWeight="bold"
          fontFamily={FONT} fill="#000">Campbell Park rainfall and piezometric levels</text>
        <text x={22} y={410} transform="rotate(-90, 22, 410)" textAnchor="middle" dominantBaseline="central"
          fontSize={18} fontWeight="bold" fontFamily={FONT} fill="#000">Piezometric level (m AHD)</text>
        <text x={1672} y={411} transform="rotate(-90, 1672, 411)" textAnchor="middle" dominantBaseline="central"
          fontSize={18} fontWeight="bold" fontFamily={FONT} fill="#000">15 minute rainfall depth (mm)</text>
        <text x={879} y={867} textAnchor="middle" dominantBaseline="central" fontSize={18} fontWeight="bold"
          fontFamily={FONT} fill="#000">Date</text>
        <Legend />
      </svg>
    </div>
  );
}
